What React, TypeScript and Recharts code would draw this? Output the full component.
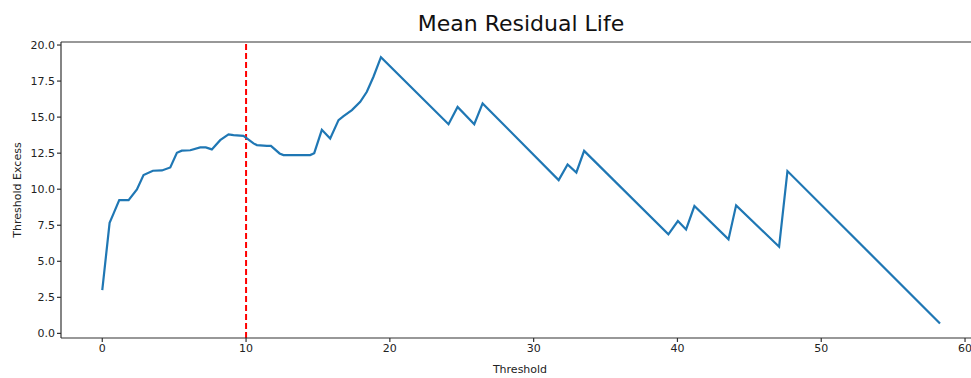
// Mean residual life plot with a dashed threshold marker at 10.
import { LineChart, Line, XAxis, YAxis, ReferenceLine } from "recharts";

const thresholds = [
  0, 0.51, 0.79, 1.18, 1.83, 2.41, 2.87, 3.52, 4.15, 4.73, 5.19, 5.53, 6.12, 6.81, 7.2, 7.62,
  8.2, 8.78, 9.13, 9.82, 10.52, 10.75, 11.45, 11.73, 12.33, 12.6, 14.46, 14.74, 15.27, 15.85,
  16.43, 16.78, 17.36, 17.94, 18.4, 18.86, 19.38, 24.08, 24.71, 25.87, 26.45, 31.74, 32.36,
  32.97, 33.51, 39.37, 40.03, 40.6, 41.18, 43.55, 44.08, 47.07, 47.65, 58.26,
];
const excess = [
  3.0, 7.67, 8.32, 9.24, 9.24, 9.98, 10.98, 11.28, 11.3, 11.51, 12.53, 12.67, 12.7, 12.9, 12.9,
  12.76, 13.4, 13.8, 13.75, 13.7, 13.18, 13.06, 13.0, 13.0, 12.48, 12.37, 12.37, 12.5, 14.12,
  13.52, 14.79, 15.07, 15.49, 16.06, 16.76, 17.8, 19.16, 14.51, 15.71, 14.51, 15.95, 10.63,
  11.72, 11.16, 12.66, 6.87, 7.79, 7.21, 8.83, 6.52, 8.88, 6.01, 11.26, 0.69,
];
const xTicks = [0, 10, 20, 30, 40, 50, 60];
const yTicks = [0, 2.5, 5, 7.5, 10, 12.5, 15, 17.5, 20];
const chosenThreshold = 10;

const data = thresholds.map((t, i) => ({ threshold: t, excess: excess[i] }));

const font = "'DejaVu Sans', sans-serif";
const axisColor = "#333";
const tickStyle = { fontSize: 11, fill: "#222", fontFamily: font };
const xDomain: [number, number] = [-2.87, 61.18];
const yDomain: [number, number] = [-0.32, 20.21];

export default function App() {
  return (
    <div
      style={{
        position: "absolute",
        left: 0,
        top: 0,
        width: 971,
        height: 378,
        overflow: "hidden",
        background: "#fff",
        fontFamily: font,
      }}
    >
      <div
        style={{
          position: "absolute",
          left: 321,
          width: 400,
          top: 11,
          textAlign: "center",
          fontSize: 22,
          color: "#111",
          lineHeight: "26px",
        }}
      >
        Mean Residual Life
      </div>
      <div
        style={{
          position: "absolute",
          left: 17,
          top: 190,
          transform: "translate(-50%, -50%) rotate(-90deg)",
          fontSize: 11,
          color: "#222",
          whiteSpace: "nowrap",
        }}
      >
        Threshold Excess
      </div>
      <div
        style={{
          position: "absolute",
          left: 420,
          width: 200,
          top: 363,
          textAlign: "center",
          fontSize: 11,
          color: "#222",
        }}
      >
        Threshold
      </div>
      <LineChart
        width={1000}
        height={378}
        data={data}
        margin={{ top: 42, right: 18, bottom: 0, left: 0 }}
      >
        <XAxis
          dataKey="threshold"
          type="number"
          domain={xDomain}
          ticks={xTicks}
          allowDataOverflow
          height={40}
          tick={tickStyle}
          tickSize={4}
          stroke={axisColor}
          strokeWidth={1.2}
        />
        <YAxis
          type="number"
          domain={yDomain}
          ticks={yTicks}
          allowDataOverflow
          width={61}
          tick={tickStyle}
          tickSize={4}
          tickFormatter={(v: number) => v.toFixed(1)}
          stroke={axisColor}
          strokeWidth={1.2}
        />
        <ReferenceLine y={yDomain[1]} stroke={axisColor} strokeWidth={1.2} />
        <ReferenceLine
          x={chosenThreshold}
          stroke="#ff0000"
          strokeWidth={2}
          strokeDasharray="6 3"
        />
        <Line
          type="linear"
          dataKey="excess"
          stroke="#1f77b4"
          strokeWidth={2.2}
          dot={false}
          isAnimationActive={false}
        />
      </LineChart>
    </div>
  );
}
